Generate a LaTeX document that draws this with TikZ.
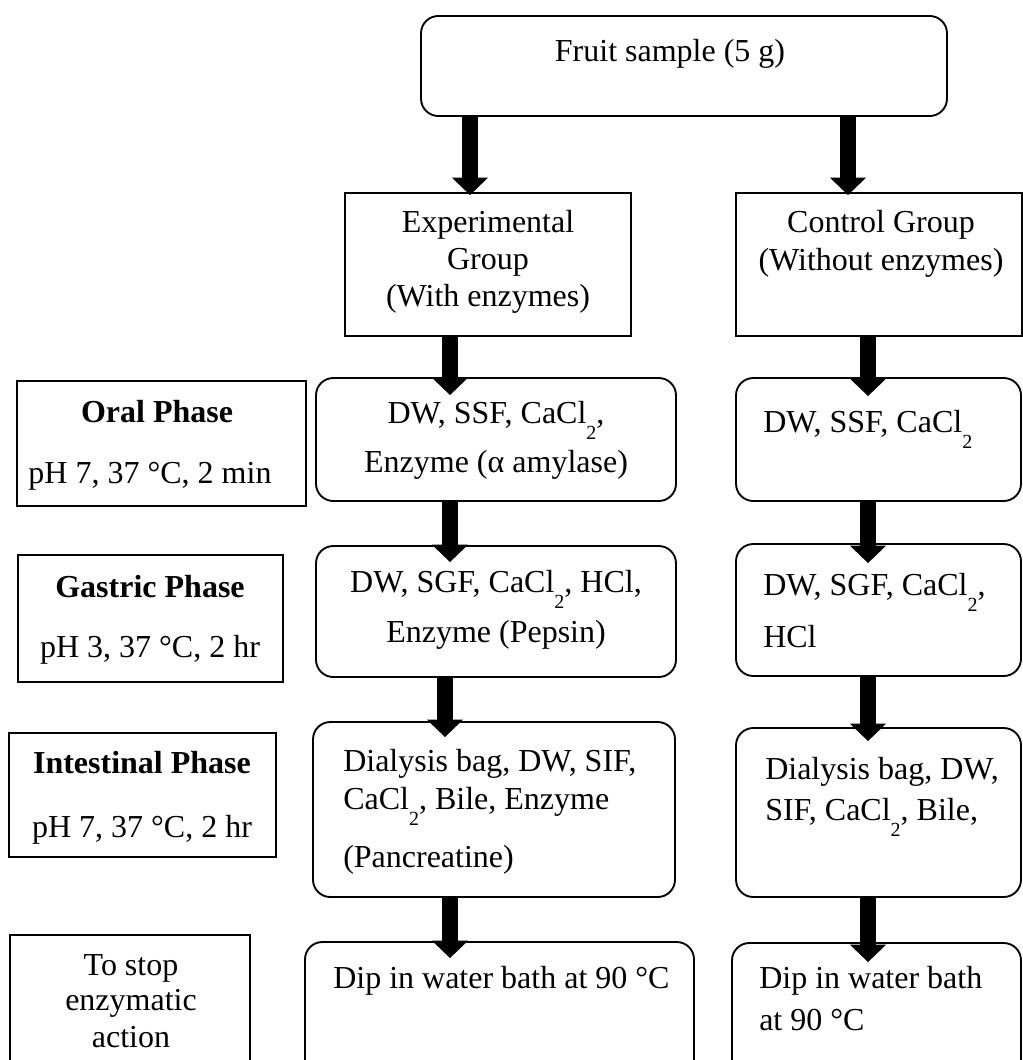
\documentclass[tikz,border=0pt]{standalone}
\usepackage{fontspec}
\setmainfont{Liberation Serif}
\usetikzlibrary{arrows.meta,fit,calc}
\newcommand{\sbt}[1]{\raisebox{-12pt}{\fontsize{15}{15}\selectfont #1}}
\begin{document}
\begin{tikzpicture}[x=0.75pt,y=-0.75pt,
  box/.style={draw, line width=1.4pt, inner sep=0pt},
  rbox/.style={box, rounded corners=13pt},
  txt/.style={inner sep=0pt, font=\fontsize{24}{29}\selectfont, anchor=base},
  ltxt/.style={txt, anchor=base west},
  bigarrow/.style={line width=12pt, -{Triangle[width=27pt,length=13pt,line width=0pt]}}]
\useasboundingbox (0,0) rectangle (1023,1060);
% boxes
\node[rbox, fit={(421,16) (947,116)}] (fruit) {};
\node[box, fit={(345,193) (631,336)}] (expg) {};
\node[box, fit={(736,193) (1022,336)}] (ctrlg) {};
\node[box, fit={(17,381) (306,506)}] (oralL) {};
\node[rbox, fit={(316,378) (676,501)}] (oralE) {};
\node[rbox, fit={(736,378) (1021,501)}] (oralC) {};
\node[box, fit={(18,555) (283,682)}] (gasL) {};
\node[rbox, fit={(316,546) (676,677)}] (gasE) {};
\node[rbox, fit={(736,544) (1021,676)}] (gasC) {};
\node[box, fit={(9,733) (276,857)}] (intL) {};
\node[rbox, fit={(313,722) (675,897)}] (intE) {};
\node[rbox, fit={(736,728) (1021,897)}] (intC) {};
\node[box, fit={(10,935) (250,1085)}] (stopL) {};
\node[rbox, fit={(305,942) (694,1085)}] (dipE) {};
\node[rbox, fit={(732,943) (1021,1085)}] (dipC) {};
% texts
\node[txt] (t1) at (670,61) {Fruit sample (5 g)};
\node[txt] (t2) at (488,232) {Experimental};
\node[txt] (t3) at (488,269) {Group};
\node[txt] (t4) at (488,306) {(With enzymes)};
\node[txt] (t5) at (881,232) {Control Group};
\node[txt] (t6) at (881,270) {(Without enzymes)};
\node[txt] (t7) at (157,422) {\textbf{Oral Phase}};
\node[txt] (t8) at (150,483) {pH 7, 37 °C, 2 min};
\node[txt] (t9) at (150,597) {\textbf{Gastric Phase}};
\node[txt] (t10) at (150,657) {pH 3, 37 °C, 2 hr};
\node[txt] (t11) at (142,773) {\textbf{Intestinal Phase}};
\node[txt] (t12) at (142,837) {pH 7, 37 °C, 2 hr};
\node[txt] (t13) at (131,975) {To stop};
\node[txt] (t14) at (131,1010) {enzymatic};
\node[txt] (t15) at (131,1047) {action};
\node[txt] (t16) at (496,423) {DW, SSF, CaCl\sbt{2},};
\node[txt] (t17) at (496,472) {Enzyme (α amylase)};
\node[txt] (t18) at (496,592) {DW, SGF, CaCl\sbt{2}, HCl,};
\node[txt] (t19) at (496,642) {Enzyme (Pepsin)};
\node[ltxt] (t20) at (343,771) {Dialysis bag, DW, SIF,};
\node[ltxt] (t21) at (343,809) {CaCl\sbt{2}, Bile, Enzyme};
\node[ltxt] (t22) at (343,867) {(Pancreatine)};
\node[ltxt] (t23) at (333,988) {Dip in water bath at 90 °C};
\node[ltxt] (t24) at (763,432) {DW, SSF, CaCl\sbt{2}};
\node[ltxt] (t25) at (763,595) {DW, SGF, CaCl\sbt{2},};
\node[ltxt] (t26) at (763,647) {HCl};
\node[ltxt] (t27) at (765,779) {Dialysis bag, DW,};
\node[ltxt] (t28) at (765,820) {SIF, CaCl\sbt{2}, Bile,};
\node[ltxt] (t29) at (759,988) {Dip in water bath};
\node[ltxt] (t30) at (759,1030) {at 90 °C};
% arrow columns
\coordinate (xa) at (470,0);
\coordinate (xb) at (848,0);
\coordinate (xe) at (450,0);
\coordinate (xf) at (445,0);
\coordinate (xc) at (868,0);
% arrows
\draw[bigarrow] (fruit.south -| xa) -- ($(expg.north -| xa)+(0,3)$);
\draw[bigarrow] (fruit.south -| xb) -- ($(ctrlg.north -| xb)+(0,3)$);
\draw[bigarrow] (expg.south -| xe) -- ($(oralE.north -| xe)+(0,18)$);
\draw[bigarrow] (oralE.south -| xe) -- ($(gasE.north -| xe)+(0,17)$);
\draw[bigarrow] (gasE.south -| xf) -- ($(intE.north -| xf)+(0,16)$);
\draw[bigarrow] (intE.south -| xe) -- ($(dipE.north -| xe)+(0,17)$);
\draw[bigarrow] (ctrlg.south -| xc) -- ($(oralC.north -| xc)+(0,19)$);
\draw[bigarrow] (oralC.south -| xc) -- ($(gasC.north -| xc)+(0,20)$);
\draw[bigarrow] (gasC.south -| xc) -- ($(intC.north -| xc)+(0,14)$);
\draw[bigarrow] (intC.south -| xc) -- ($(dipC.north -| xc)+(0,20)$);
\end{tikzpicture}
\end{document}
